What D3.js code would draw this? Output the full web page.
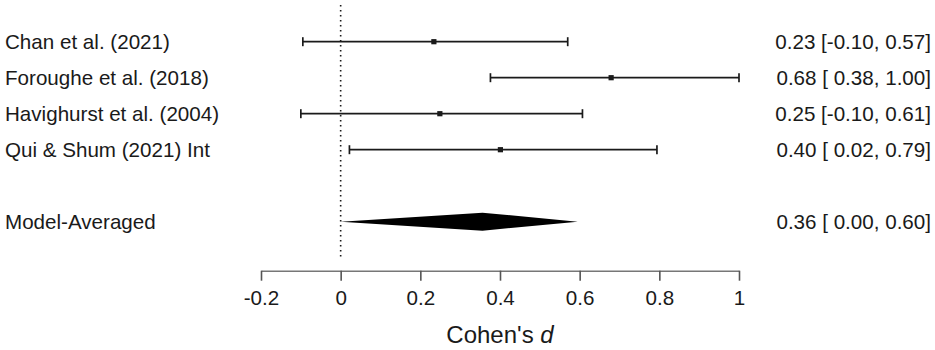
<!DOCTYPE html>
<html>
<head>
<meta charset="utf-8">
<script src="https://cdn.jsdelivr.net/npm/d3@7"></script>
<style>
html,body{margin:0;padding:0;background:#fff;}
svg{display:block;font-family:"Liberation Sans",Arial,sans-serif;}
</style>
</head>
<body>
<svg id="chart" width="935" height="350"></svg>
<script>
const studies = ["Chan et al. (2021)", "Foroughe et al. (2018)", "Havighurst et al. (2004)", "Qui & Shum (2021) Int"];
const estimates = [0.234, 0.679, 0.249, 0.401];
const lowers = [-0.095, 0.376, -0.100, 0.022];
const uppers = [0.570, 1.000, 0.607, 0.794];
const estLabels = ["0.23 [-0.10, 0.57]", "0.68 [ 0.38, 1.00]", "0.25 [-0.10, 0.61]", "0.40 [ 0.02, 0.79]"];
const pooledName = "Model-Averaged";
const pooled = {est: 0.356, lo: 0.000, hi: 0.595};
const pooledLabel = "0.36 [ 0.00, 0.60]";
const xTicks = [-0.2, 0, 0.2, 0.4, 0.6, 0.8, 1];
const xTickLabels = ["-0.2", "0", "0.2", "0.4", "0.6", "0.8", "1"];
const xTitle = "Cohen's ";
const xTitleItalic = "d";

const svg = d3.select("#chart");
const x = d3.scaleLinear().domain([-0.2, 1]).range([261, 739]);
const y = d3.scaleLinear().domain([0, 5]).range([41.7, 221.7]);
const ink = "#1a1a1a";
const fs = 20.6;

// reference line at 0
svg.append("line")
  .attr("x1", x(0)).attr("x2", x(0))
  .attr("y1", 5).attr("y2", 259)
  .attr("stroke", ink).attr("stroke-width", 1.6)
  .attr("stroke-dasharray", "1.6,3.4");

// study rows
const g = svg.append("g");
studies.forEach((s, i) => {
  const yy = y(i);
  g.append("line").attr("x1", x(lowers[i])).attr("x2", x(uppers[i]))
    .attr("y1", yy).attr("y2", yy).attr("stroke", ink).attr("stroke-width", 1.7);
  [lowers[i], uppers[i]].forEach(v => {
    g.append("line").attr("x1", x(v)).attr("x2", x(v))
      .attr("y1", yy - 4.5).attr("y2", yy + 4.5).attr("stroke", ink).attr("stroke-width", 1.7);
  });
  g.append("rect").attr("x", x(estimates[i]) - 2.6).attr("y", yy - 2.6)
    .attr("width", 5.2).attr("height", 5.2).attr("fill", ink);
  g.append("text").attr("x", 5).attr("y", yy).attr("dy", "0.35em")
    .attr("font-size", fs).attr("fill", ink).text(s);
  g.append("text").attr("x", 931).attr("y", yy).attr("dy", "0.35em")
    .attr("text-anchor", "end").attr("font-size", fs).attr("fill", ink).text(estLabels[i]);
});

// pooled diamond
const yp = y(5);
svg.append("path")
  .attr("d", `M${x(pooled.lo)},${yp} L${x(pooled.est)},${yp - 9} L${x(pooled.hi)},${yp} L${x(pooled.est)},${yp + 9} Z`)
  .attr("fill", "#000");
svg.append("text").attr("x", 5).attr("y", yp).attr("dy", "0.35em")
  .attr("font-size", fs).attr("fill", ink).text(pooledName);
svg.append("text").attr("x", 931).attr("y", yp).attr("dy", "0.35em")
  .attr("text-anchor", "end").attr("font-size", fs).attr("fill", ink).text(pooledLabel);

// x axis
const axis = d3.axisBottom(x).tickValues(xTicks).tickSize(10).tickSizeOuter(0)
  .tickFormat((d, i) => xTickLabels[i]);
const ag = svg.append("g").attr("transform", "translate(0,270.7)").call(axis);
ag.select(".domain").attr("stroke", "#777").attr("stroke-width", 1.6);
ag.selectAll(".tick line").attr("stroke", "#555").attr("stroke-width", 1.6);
ag.selectAll(".tick text").attr("font-size", fs).attr("fill", ink)
  .attr("font-family", "Liberation Sans, Arial, sans-serif").attr("y", 20).attr("dy", "0.71em");

const t = svg.append("text").attr("x", x(0.4)).attr("y", 335).attr("dy", "0.35em")
  .attr("text-anchor", "middle").attr("font-size", 24).attr("fill", ink);
t.append("tspan").text(xTitle);
t.append("tspan").attr("font-style", "italic").text(xTitleItalic);
</script>
</body>
</html>
